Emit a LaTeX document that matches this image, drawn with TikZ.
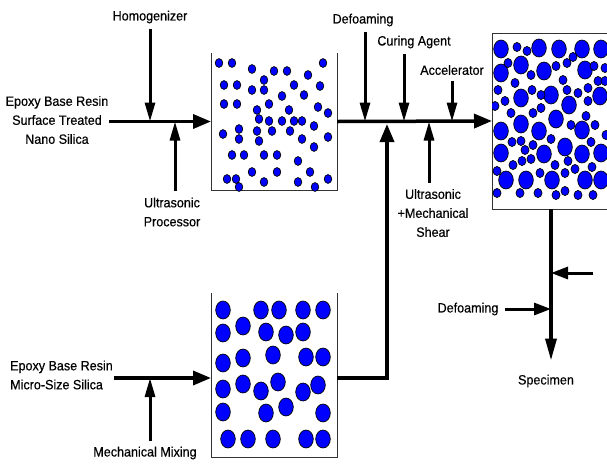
\documentclass[tikz,border=0pt]{standalone}
\usepackage{fontspec}
\setmainfont{Liberation Sans}[FakeBold=0.4, FakeStretch=0.93]
\usetikzlibrary{arrows.meta}

\begin{document}
\begin{tikzpicture}[x=1pt,y=-1pt,
    every node/.style={font=\fontsize{13.5}{19}\selectfont, inner sep=1pt, align=center},
    tank/.style={inner sep=0pt, outer sep=0pt},
    wall/.style={draw=black!80, line width=0.9pt},
    flow/.style={line width=3.5pt, -{Triangle[length=18pt,width=14pt]}},
    feed/.style={line width=3pt, -{Triangle[length=19pt,width=10pt]}, shorten <=5pt},
    feedh/.style={line width=3pt, -{Triangle[length=17pt,width=12pt]}},
    particle/.style={fill=blue, draw=black, line width=0.7pt}]
    \useasboundingbox (0,0) rectangle (607,464);

    % tanks
    \node[tank, minimum width=126pt, minimum height=137pt] (nanobox) at (274,121.5) {};
    \node[tank, minimum width=126pt, minimum height=164pt] (microbox) at (274,375) {};
    \node[tank, minimum width=118pt, minimum height=176pt] (mixbox) at (551,121) {};
    \draw[wall] (nanobox.north west) -- (nanobox.south west) -- (nanobox.south east) -- (nanobox.north east);
    \draw[wall] (microbox.north west) -- (microbox.south west) -- (microbox.south east) -- (microbox.north east);
    \draw[wall] (mixbox.north west) rectangle (mixbox.south east);

    % particles
    \foreach \x/\y in {219/63, 232/63, 252/69, 274/71, 287/71, 323/63, 308/75, 264/80,
        224/85, 237/85, 252/90, 264/90, 294/85, 320/86, 282/96, 304/95, 224/104, 237/104,
        257/110, 269/104, 289/110, 318/107, 328/113, 259/119, 269/121, 282/121, 294/121,
        302/121, 314/126, 223/134, 239/129, 239/139, 257/131, 272/131, 290/131, 259/141,
        302/139, 328/137, 314/147, 232/155, 244/155, 264/155, 277/155, 298/161, 252/172,
        277/172, 310/172, 227/179, 236/179, 239/187, 264/182, 298/182, 328/179, 315/187}
        \draw[particle] (\x,\y) ellipse [x radius=3.8, y radius=4.4];
    \foreach \x/\y in {223/310, 261/310, 279/310, 303/310, 323/310, 243/326, 223/333,
        266/332, 286/335, 303/332, 223/363, 243/358, 273/355, 306/357, 323/357, 223/389,
        243/384, 261/391, 278/382, 303/392, 318/385, 223/412, 266/413, 286/407, 323/413,
        228/439, 248/439, 273/439, 306/439, 323/439}
        \draw[particle] (\x,\y) ellipse [x radius=7.3, y radius=9];
    \begin{scope}
        \clip (mixbox.north west) rectangle (mixbox.south east);
        \foreach \x/\y in {501/49, 539/48, 559/49, 582/49, 601/49, 521/65, 544/71, 585/70,
            501/73, 521/98, 551/95, 600/96, 569/105, 556/119, 521/124, 501/131, 539/131,
            582/130, 565/147, 501/153, 544/154, 582/154, 601/153, 506/180, 526/180,
            552/180, 585/180, 601/180}
            \draw[particle] (\x,\y) ellipse [x radius=7.3, y radius=9];
        \foreach \x/\y in {517/47, 527/51, 508/63, 531/75, 556/66, 567/63, 573/57, 594/66,
            605/68, 515/83, 563/80, 598/81, 605/81, 498/90, 532/90, 541/95, 567/90, 578/93,
            588/88, 505/101, 495/106, 541/108, 588/101, 511/113, 533/113, 586/116, 571/125,
            595/125, 606/135, 512/142, 521/141, 525/150, 533/145, 551/139, 591/142, 531/159,
            522/161, 513/165, 568/161, 555/165, 575/169, 592/167, 497/171, 540/173, 565/173,
            497/193, 520/193, 538/193, 556/195, 565/191, 578/195, 593/195}
            \draw[particle] (\x,\y) ellipse [x radius=4, y radius=4.5];
    \end{scope}

    % labels
    \node (nanosrc) at (57,120) {Epoxy Base Resin\\Surface Treated\\Nano Silica};
    \node (homog) at (150,17) {Homogenizer};
    \node (ultra) at (172,212) {Ultrasonic\\Processor};
    \node (defoam) at (363,20) {Defoaming};
    \node (curing) at (414,42) {Curing Agent};
    \node (accel) at (452,70) {Accelerator};
    \node (shear) at (433,213) {Ultrasonic\\+Mechanical\\Shear};
    \node[anchor=west, align=left] (microsrc) at (9,375) {Epoxy Base Resin\\Micro-Size Silica};
    \node (mixing) at (145,453) {Mechanical Mixing};
    \node (defoamb) at (468,309) {Defoaming};
    \node (specimen) at (546,381) {Specimen};
    \coordinate (merge) at (387,124);
    \coordinate (lowline) at (0,378);
    \coordinate (sidein) at (593,273);

    % flow lines
    \draw[flow] (nanosrc.east |- nanobox.west) -- (nanobox.west);
    \draw[flow] (nanobox.east) -- (mixbox.west);
    \draw[flow] (microsrc.east |- lowline) -- (microbox.west |- lowline);
    \draw[flow] (microbox.east |- lowline) -| (merge);
    \draw[flow, -{Triangle[length=22pt,width=11pt]}, shorten >=13pt] (mixbox.south) -- (mixbox.south |- specimen.north);

    % feeds
    \draw[feed] (homog) -- (homog |- nanobox.west);
    \draw[feed] ([xshift=3pt]ultra.north) -- ([xshift=3pt]ultra.north |- nanobox.west);
    \draw[feed] ([xshift=2pt]defoam.south) -- ([xshift=2pt]defoam.south |- nanobox.east);
    \draw[feed] ([xshift=-10pt]curing.south) -- ([xshift=-10pt]curing.south |- nanobox.east);
    \draw[feed] (accel) -- (accel |- nanobox.east);
    \draw[feed] ([xshift=-4pt]shear.north) -- ([xshift=-4pt]shear.north |- nanobox.east);
    \draw[feed] ([xshift=5pt]mixing.north) -- ([xshift=5pt]mixing.north |- lowline);
    \draw[feedh] (sidein) -- (sidein -| mixbox.south);
    \draw[feedh, shorten <=5pt] (defoamb) -- (defoamb -| mixbox.south);
\end{tikzpicture}
\end{document}
